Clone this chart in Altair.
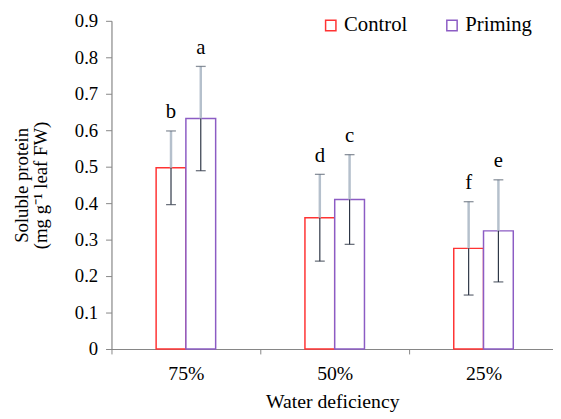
import altair as alt
import pandas as pd

groups = ["75%", "50%", "25%"]
treatments = ["Control", "Priming"]
control_mean = [0.497, 0.360, 0.276]
priming_mean = [0.632, 0.410, 0.324]
control_err = [0.101, 0.119, 0.128]
priming_err = [0.143, 0.123, 0.140]
control_letters = ["b", "d", "f"]
priming_letters = ["a", "c", "e"]
y_ticks = [0, 0.1, 0.2, 0.3, 0.4, 0.5, 0.6, 0.7, 0.8, 0.9]

BAR_W = 0.2
rows = []
for i, g in enumerate(groups):
    for t, means, errs, lets, side in [
        ("Control", control_mean, control_err, control_letters, -1),
        ("Priming", priming_mean, priming_err, priming_letters, 0),
    ]:
        left = i + 0.5 + side * BAR_W
        rows.append({
            "group": g, "treatment": t, "mean": means[i],
            "lo": means[i] - errs[i], "hi": means[i] + errs[i],
            "x0": left, "x1": left + BAR_W, "xc": left + BAR_W / 2,
            "letter": lets[i],
        })
df = pd.DataFrame(rows)

FONT = "Liberation Serif"
x_scale = alt.Scale(domain=[0, 448 / 151], nice=False, zero=False)
y_scale = alt.Scale(domain=[0, 0.9], nice=False)

label_expr = ("datum.value == 0.5 ? '" + groups[0] + "' : datum.value == 1.5 ? '" + groups[1]
              + "' : datum.value == 2.5 ? '" + groups[2] + "' : ''")

x_axis = alt.Axis(
    values=[0, 0.5, 1, 1.5, 2, 2.5], labelExpr=label_expr, title="Water deficiency",
    tickSize=5, labelPadding=10, titlePadding=8, labelOverlap=False, labelFlush=False,
    labelFont=FONT, titleFont=FONT, labelFontSize=20, titleFontSize=20,
    tickOpacity={"condition": {"test": "datum.value % 1 === 0", "value": 1}, "value": 0},
)
y_axis = alt.Axis(
    values=y_ticks, format=".1~f", title=["Soluble protein", "(mg g\u207b\u00b9 leaf FW)"],
    tickSize=6, labelPadding=8, titlePadding=24, titleLineHeight=19,
    labelOverlap=False, labelFont=FONT, titleFont=FONT, labelFontSize=19, titleFontSize=19,
)


def X(field):
    return alt.X(field, type="quantitative", scale=x_scale, axis=x_axis)


def Y(field):
    return alt.Y(field, type="quantitative", scale=y_scale, axis=y_axis)


base = alt.Chart(df)

bars = base.mark_bar(fill="white", strokeWidth=1.5).encode(
    x=X("x0"),
    x2="x1:Q",
    y=Y("mean"),
    y2=alt.datum(0),
    stroke=alt.Stroke(
        "treatment:N",
        scale=alt.Scale(domain=treatments, range=["#ff3333", "#8c5cc4"]),
        legend=alt.Legend(
            title=None, orient="none", legendX=212, legendY=-6, direction="horizontal",
            symbolType="square", symbolSize=110, symbolStrokeWidth=1.5, symbolFillColor="white",
            labelFont=FONT, labelFontSize=21, labelColor="black", labelOffset=3,
            columnPadding=34,
        ),
    ),
)

upper = base.mark_rule(color="#b5c0cc", strokeWidth=2.5).encode(
    x=X("xc"), y=Y("mean"), y2="hi:Q")
lower = base.mark_rule(color="#2d3646", strokeWidth=1.2).encode(
    x=X("xc"), y=Y("lo"), y2="mean:Q")
cap_top = base.mark_tick(orient="horizontal", size=10, thickness=1.3, color="#5a6472").encode(
    x=X("xc"), y=Y("hi"))
cap_bot = base.mark_tick(orient="horizontal", size=10, thickness=1.3, color="#2d3646").encode(
    x=X("xc"), y=Y("lo"))
letters = base.mark_text(font=FONT, fontSize=21, color="black", baseline="alphabetic", dy=-13).encode(
    x=X("xc"), y=Y("hi"), text="letter:N")

chart = alt.layer(bars, upper, lower, cap_top, cap_bot, letters).properties(
    width=448, height=333,
    autosize=alt.AutoSizeParams(type="none"),
    padding={"left": 105, "top": 10, "right": 0, "bottom": 68},
).configure_view(stroke=None).configure_axis(
    grid=False, domainColor="#868686", tickColor="#868686", domainWidth=1.2,
    labelFont=FONT, labelColor="black",
    titleFont=FONT, titleFontWeight="normal", titleColor="black",
).configure_text(font=FONT).configure_legend(labelFont=FONT)

chart.save("out.html", embed_options={"renderer": "svg", "actions": False})
